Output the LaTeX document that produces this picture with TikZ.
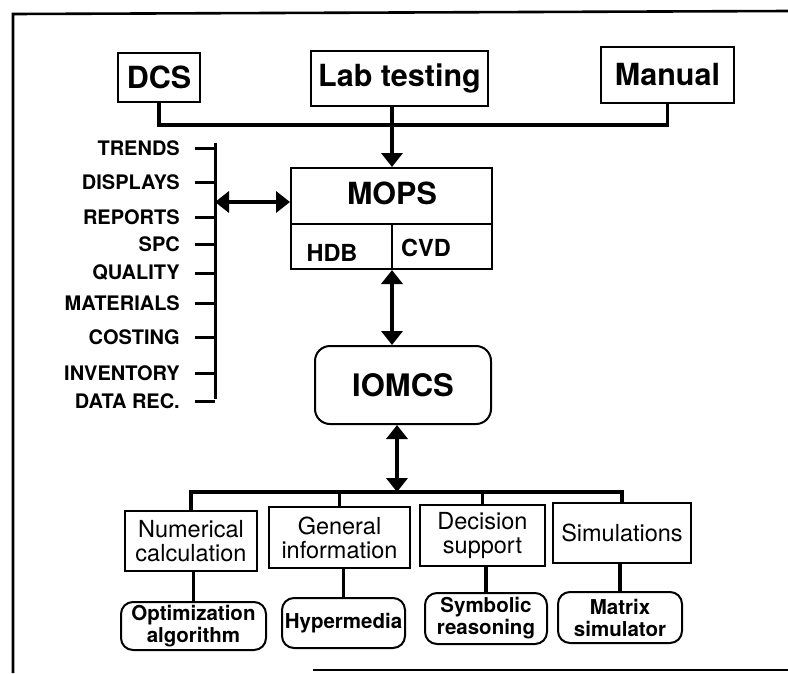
\documentclass[tikz,border=0pt]{standalone}
\usepackage{fontspec}
\setmainfont{TeX Gyre Heros}
\usetikzlibrary{arrows.meta}
\tikzset{
  boxline/.style={draw, line width=2pt, inner sep=0pt},
  topbox/.style={boxline, font=\fontsize{30.5}{32}\selectfont\bfseries},
  midbox/.style={boxline, align=center, font=\fontsize{23.5}{24}\selectfont},
  leafbox/.style={boxline, rounded corners=12pt, align=center, font=\fontsize{20.5}{22}\selectfont\bfseries},
  listlbl/.style={anchor=east, inner sep=0pt, font=\fontsize{20}{22}\selectfont\bfseries},
  conn/.style={line width=3.5pt},
  tip/.tip={Triangle[width=21pt,length=14pt]},
  arr/.style={conn, -tip},
  darr/.style={conn, tip-tip},
  framelinestyle/.style={line width=2.6pt}
}
\begin{document}
\begin{tikzpicture}[x=1pt,y=-1pt]
\useasboundingbox (0,0) rectangle (788,673);
% frame
\draw[framelinestyle] (13,673) -- (13,14) -- (788,11);
\draw[framelinestyle] (313,670) -- (788,670);

% top sources
\node[topbox, minimum width=82pt, minimum height=49pt] (dcs) at (159,77.5) {DCS};
\node[topbox, minimum width=177pt, minimum height=55pt] (lab) at (399.5,78.5) {Lab testing};
\node[topbox, minimum width=133pt, minimum height=56pt] (man) at (667.5,75) {Manual};

% MOPS
\node[boxline, minimum width=201pt, minimum height=101pt] (mops) at (391.5,218.5) {};
\coordinate (cx) at (392,0);
\coordinate (divy) at (0,224);
\draw[line width=2pt] (mops.west |- divy) -- (mops.east |- divy);
\draw[line width=2pt] (cx |- divy) -- (cx |- mops.south);
\node[inner sep=0pt, font=\fontsize{30.5}{32}\selectfont\bfseries] (mopst) at (392,193) {MOPS};
\node[inner sep=0pt, font=\fontsize{23.5}{24}\selectfont\bfseries] (hdb) at (332,253) {HDB};
\node[inner sep=0pt, font=\fontsize{23.5}{24}\selectfont\bfseries] (cvd) at (426,247.5) {CVD};

% bus from sources
\coordinate (busy) at (0,125);
\draw[conn] (dcs.south) -- (dcs.south |- busy) -- (man.south |- busy) -- (man.south);
\draw[arr] (lab.south -| cx) -- (mops.north -| cx);

% IOMCS
\node[boxline, rounded corners=15pt, minimum width=176pt, minimum height=78pt,
      font=\fontsize{31}{32}\selectfont\bfseries] (iomcs) at (403,385) {IOMCS};
\draw[darr] (mops.south -| cx) -- (iomcs.north -| cx);

% left list
\coordinate (vb) at (215,0);
\node[listlbl] (l1) at (180,148) {TRENDS};
\node[listlbl] (l2) at (180,182) {DISPLAYS};
\node[listlbl] (l3) at (180,217) {REPORTS};
\node[listlbl] (l4) at (180,244) {SPC};
\node[listlbl] (l5) at (180,273) {QUALITY};
\node[listlbl] (l6) at (180,303) {MATERIALS};
\node[listlbl] (l7) at (180,337) {COSTING};
\node[listlbl] (l8) at (180,373) {INVENTORY};
\node[listlbl] (l9) at (180,401) {DATA REC.};
\draw[line width=3pt] (215,143) -- (215,399);
\foreach \n in {l1,l2,l3,l4,l5,l6,l7,l8,l9}{
  \draw[line width=3pt] ([xshift=15pt]\n.east) -- (\n.east -| vb);
}
\coordinate (lp) at (215,202);
\draw[darr] (lp) -- (lp -| mops.west);

% lower level
\node[midbox, minimum width=132pt, minimum height=60pt] (num) at (191,541) {Numerical\\calculation};
\node[midbox, minimum width=141pt, minimum height=61pt] (gen) at (339.5,537.5) {General\\information};
\node[midbox, minimum width=125pt, minimum height=61pt] (dec) at (482.5,535.5) {Decision\\support};
\node[midbox, minimum width=138pt, minimum height=60pt] (sim) at (622,533) {Simulations};

\coordinate (bx) at (397,492);
\draw[conn] (num.north) -- (num.north |- bx) -- (sim.north |- bx) -- (sim.north);
\draw[conn] (gen.north) -- (gen.north |- bx);
\draw[conn] (dec.north) -- (dec.north |- bx);
\draw[darr] (iomcs.south -| bx) -- (bx);

\node[leafbox, minimum width=145pt, minimum height=48pt] (opt) at (193.5,626) {Optimization\\algorithm};
\node[leafbox, minimum width=123pt, minimum height=50pt] (hyp) at (343.5,623) {Hypermedia};
\node[leafbox, minimum width=122pt, minimum height=51pt] (sym) at (486,618.5) {Symbolic\\reasoning};
\node[leafbox, minimum width=124pt, minimum height=51pt] (mat) at (620,617.5) {Matrix\\simulator};

\draw[conn] (opt.north |- num.south) -- (opt.north);
\draw[conn] (hyp.north |- gen.south) -- (hyp.north);
\draw[conn] (sym.north |- dec.south) -- (sym.north);
\draw[conn] (mat.north |- sim.south) -- (mat.north);
\end{tikzpicture}
\end{document}
